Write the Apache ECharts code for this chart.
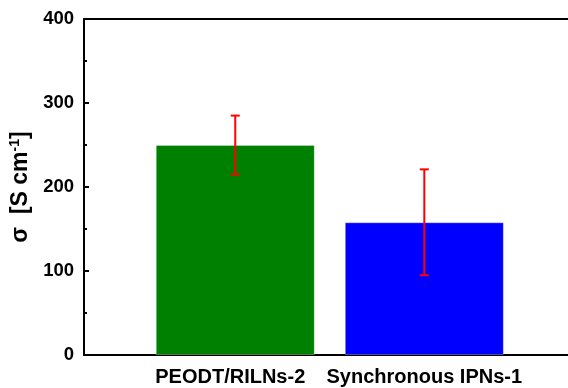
<!DOCTYPE html>
<html>
<head>
<meta charset="utf-8">
<script src="https://cdn.jsdelivr.net/npm/echarts@6/dist/echarts.min.js"></script>
<style>html,body{margin:0;padding:0;background:#fff}#c{width:568px;height:388px}</style>
</head>
<body>
<div id="c"></div>
<script>
const categories = ['PEODT/RILNs-2', 'Synchronous IPNs-1'];
const positions = [1, 2];
const values = [250, 158];
const errors = [35, 63];
const barColors = ['#008000', '#0000ff'];
const yTicks = [0, 100, 200, 300, 400];

const FONT = "'Liberation Sans', Arial, sans-serif";
const chart = echarts.init(document.getElementById('c'), null, {renderer: 'canvas'});

const barData = positions.map((p, i) => ({value: [p, values[i]], itemStyle: {color: barColors[i]}}));
const errData = positions.map((p, i) => [p, values[i] - errors[i], values[i] + errors[i]]);
const labelStyle = {fontFamily: FONT, fontWeight: 'bold', fontSize: 20, color: '#000'};

chart.setOption({
  animation: false,
  backgroundColor: '#fff',
  grid: {left: 84, right: 0, top: 19, bottom: 33, containLabel: false},
  xAxis: [{
    type: 'value', min: 0.2, max: 2.76, position: 'bottom',
    axisLine: {show: true, lineStyle: {color: '#000', width: 2}},
    axisTick: {show: false},
    splitLine: {show: false},
    axisLabel: {
      show: true, customValues: positions, margin: 12,
      color: '#000', fontFamily: FONT, fontWeight: 'bold', fontSize: 20,
      formatter: v => { const i = positions.indexOf(v); return i >= 0 ? '{c' + i + '|' + categories[i] + '}' : ''; },
      rich: {
        c0: Object.assign({padding: [0, 10, 0, 0]}, labelStyle),
        c1: Object.assign({padding: [0, 0, 0, 0]}, labelStyle)
      }
    }
  }, {
    type: 'value', min: 0.2, max: 2.76, position: 'top',
    axisLine: {show: true, lineStyle: {color: '#000', width: 2}},
    axisTick: {show: false}, axisLabel: {show: false}, splitLine: {show: false}
  }],
  yAxis: {
    type: 'value', min: yTicks[0], max: yTicks[yTicks.length - 1], interval: 100,
    axisLine: {show: true, lineStyle: {color: '#000', width: 2}},
    axisTick: {show: true, inside: true, length: 5, lineStyle: {color: '#000', width: 2}},
    minorTick: {show: true, splitNumber: 2, length: 3, lineStyle: {color: '#000', width: 2}},
    splitLine: {show: false},
    axisLabel: {color: '#000', fontFamily: FONT, fontWeight: 'bold', fontSize: 18.5, margin: 10},
    name: '{a|σ  [S cm}{s|-1}{a|]}',
    nameLocation: 'middle', nameRotate: 90, nameGap: 45,
    nameTextStyle: {
      rich: {
        a: {fontFamily: FONT, fontWeight: 'bold', fontSize: 23, color: '#000'},
        s: {fontFamily: FONT, fontWeight: 'bold', fontSize: 14, color: '#000', verticalAlign: 'top', padding: [0, 0, 11, 0]}
      }
    }
  },
  series: [{
    type: 'bar', xAxisIndex: 0, barWidth: 159,
    data: barData,
    itemStyle: {borderColor: 'rgba(255,255,255,0.3)', borderWidth: 1}
  }, {
    type: 'custom', xAxisIndex: 0,
    data: errData,
    z: 5,
    renderItem: function (params, api) {
      const x = api.value(0);
      const lo = api.coord([x, api.value(1)]);
      const hi = api.coord([x, api.value(2)]);
      const half = 4.5;
      const style = {stroke: '#ff0000', lineWidth: 2};
      return {type: 'group', children: [
        {type: 'line', shape: {x1: lo[0], y1: lo[1], x2: hi[0], y2: hi[1]}, style},
        {type: 'line', shape: {x1: lo[0] - half, y1: lo[1], x2: lo[0] + half, y2: lo[1]}, style},
        {type: 'line', shape: {x1: hi[0] - half, y1: hi[1], x2: hi[0] + half, y2: hi[1]}, style}
      ]};
    }
  }]
});
</script>
</body>
</html>
